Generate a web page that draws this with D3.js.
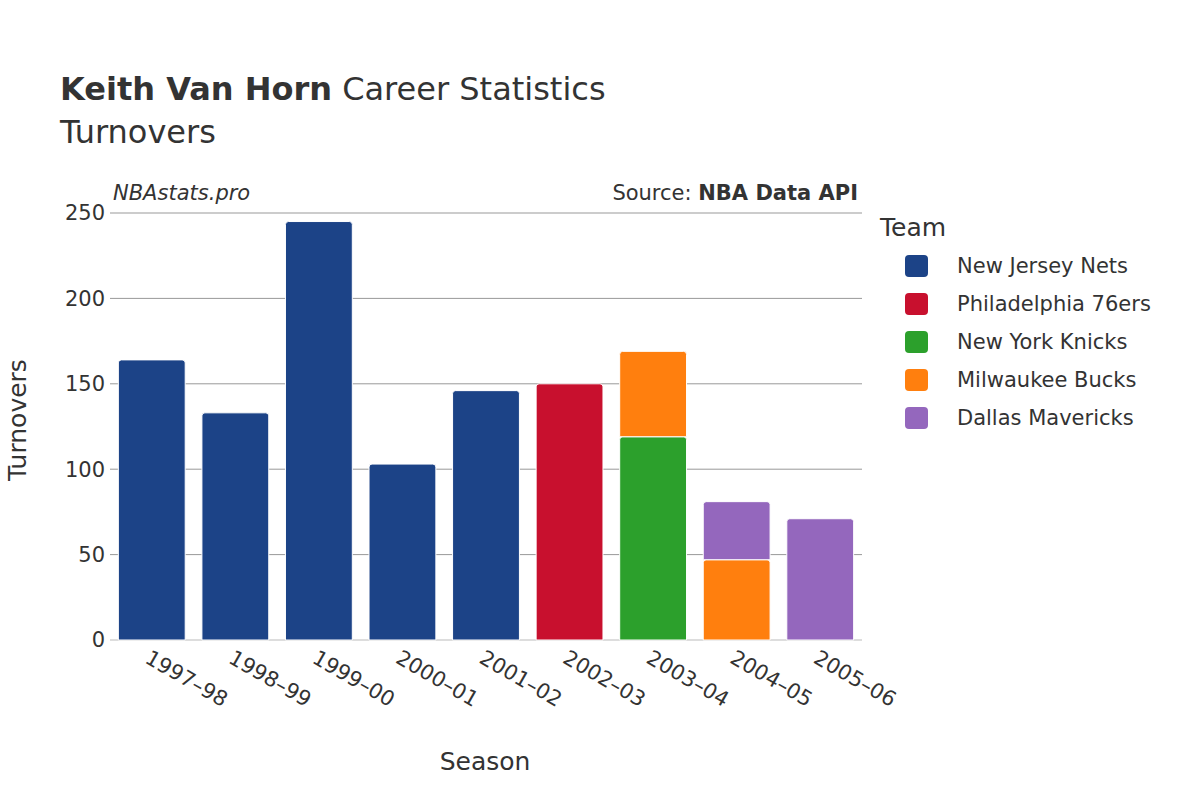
<!DOCTYPE html>
<html><head><meta charset="utf-8">
<script src="https://cdn.jsdelivr.net/npm/d3@7"></script>
<style>body{margin:0;background:#fff;font-family:"DejaVu Sans",sans-serif;}</style>
</head><body><svg id="c" width="1200" height="800"></svg>
<script>
const seasons=["1997–98","1998–99","1999–00","2000–01","2001–02","2002–03","2003–04","2004–05","2005–06"];
const teams=["New Jersey Nets","Philadelphia 76ers","New York Knicks","Milwaukee Bucks","Dallas Mavericks"];
const colors=["#1c4387","#c8102e","#2ca02c","#ff7f0e","#9467bd"];
const njn=[164,133,245,103,146,0,0,0,0];
const phi=[0,0,0,0,0,150,0,0,0];
const nyk=[0,0,0,0,0,0,119,0,0];
const mil=[0,0,0,0,0,0,50,47,0];
const dal=[0,0,0,0,0,0,0,34,71];
const yTicks=[0,50,100,150,200,250];
const series=[njn,phi,nyk,mil,dal];

const svg=d3.select("#c");
const L=110,R=862,T=213,B=640;
const x=d3.scaleBand().domain(seasons).range([L,R]).paddingInner(0.2).paddingOuter(0.1);
const y=d3.scaleLinear().domain([0,250]).range([B,T]);
const txt="#333";
svg.append("g").selectAll("line").data(yTicks).join("line")
 .attr("x1",L).attr("x2",R).attr("y1",d=>y(d)).attr("y2",d=>y(d))
 .attr("stroke",d=>d===0?"#ddd":"#999").attr("stroke-width",d=>d===0?2:1);
svg.append("g").selectAll("text").data(yTicks).join("text")
 .attr("x",L-5).attr("y",d=>y(d)).attr("dy","0.35em").attr("text-anchor","end")
 .attr("font-size",21).attr("fill",txt).text(d=>d);
const g=svg.append("g");
seasons.forEach((s,i)=>{
 let base=0;
 series.forEach((ser,k)=>{
  const v=ser[i]; if(!v) return;
  const y0=y(base), y1=y(base+v);
  g.append("path").attr("fill",colors[k]).attr("stroke","#fff").attr("stroke-width",1)
   .attr("d",()=>{const x0=x(s),w=x.bandwidth(),r=3;
     return `M${x0},${y0}V${y1+r}Q${x0},${y1} ${x0+r},${y1}H${x0+w-r}Q${x0+w},${y1} ${x0+w},${y1+r}V${y0}Z`;});
  base+=v;
 });
});
svg.append("g").selectAll("text").data(seasons).join("text")
 .attr("transform",d=>`translate(${x(d)+x.bandwidth()/2-8},${B+22}) rotate(30)`)
 .attr("font-size",21).attr("fill",txt).text(d=>d);
svg.append("text").attr("x",60).attr("y",100).attr("font-size",32).attr("fill",txt)
 .html('<tspan font-weight="bold">Keith Van Horn</tspan> Career Statistics');
svg.append("text").attr("x",60).attr("y",143).attr("font-size",32).attr("fill",txt).text("Turnovers");
svg.append("text").attr("x",113).attr("y",200).attr("font-size",21).attr("font-style","italic").attr("fill",txt).text("NBAstats.pro");
svg.append("text").attr("x",858).attr("y",200).attr("font-size",21).attr("text-anchor","end").attr("fill",txt)
 .html('Source: <tspan font-weight="bold">NBA Data API</tspan>');
svg.append("text").attr("x",485).attr("y",770).attr("font-size",25).attr("text-anchor","middle").attr("fill",txt).text("Season");
svg.append("text").attr("transform","translate(26,420) rotate(-90)").attr("font-size",25).attr("text-anchor","middle").attr("fill",txt).text("Turnovers");
svg.append("text").attr("x",880).attr("y",236).attr("font-size",25).attr("fill",txt).text("Team");
teams.forEach((t,i)=>{
 const yy=266+i*38;
 svg.append("rect").attr("x",905).attr("y",yy-11).attr("width",23).attr("height",22).attr("rx",4).attr("fill",colors[i]);
 svg.append("text").attr("x",957).attr("y",yy).attr("dy","0.35em").attr("font-size",21).attr("fill",txt).text(t);
});
</script></body></html>
